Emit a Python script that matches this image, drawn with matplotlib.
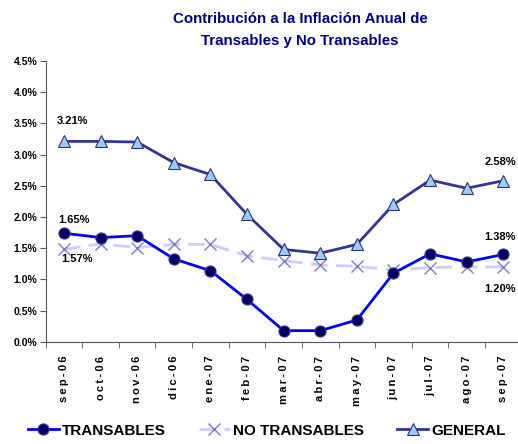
import matplotlib
matplotlib.use("Agg")
import matplotlib.pyplot as plt
from matplotlib.ticker import FuncFormatter, MultipleLocator
import numpy as np

# data
months = ["sep-06", "oct-06", "nov-06", "dic-06", "ene-07", "feb-07", "mar-07",
          "abr-07", "may-07", "jun-07", "jul-07", "ago-07", "sep-07"]
transables = [1.74, 1.67, 1.70, 1.33, 1.14, 0.68, 0.18, 0.18, 0.35, 1.10, 1.41, 1.28, 1.40]
no_transables = [1.48, 1.57, 1.51, 1.56, 1.56, 1.38, 1.30, 1.23, 1.21, 1.15, 1.19, 1.20, 1.20]
general = [3.21, 3.21, 3.20, 2.87, 2.68, 2.04, 1.48, 1.42, 1.56, 2.20, 2.59, 2.46, 2.58]

title = "Contribución a la Inflación Anual de\nTransables y No Transables"

FONT = ["Liberation Sans", "DejaVu Sans"]
plt.rcParams["font.family"] = FONT

fig = plt.figure(figsize=(5.18, 4.44), dpi=100)
ax = fig.add_axes([0.088, 0.230, 0.919, 0.633])

x = np.arange(len(months))

ax.plot(x, no_transables, color="#ccccff", lw=2.0, dashes=(6, 3),
        marker="x", ms=9, mew=1.0, mec="#7b7bc8", label="NO TRANSABLES", zorder=2)
ax.plot(x, transables, color="#0000ff", lw=2.0,
        marker="o", ms=8, mfc="#000066", mec="#3a3a8a", mew=0.8, label="TRANSABLES", zorder=3)
ax.plot(x, general, color="#333399", lw=2.0,
        marker="^", ms=9, mfc="#99ccff", mec="#333366", mew=0.8, label="GENERAL", zorder=4)

# point labels
lab = dict(fontsize=8, fontweight="bold", ha="center", va="center",
           textcoords="offset pixels")
ax.annotate("3.21%", (x[0], general[0]), xytext=(9, 20), **lab)
ax.annotate("1.65%", (x[0], transables[0]), xytext=(10, 13), **lab)
ax.annotate("1.57%", (x[0], no_transables[0]), xytext=(13, -10), **lab)
ax.annotate("2.58%", (x[-1], general[-1]), xytext=(-3, 19), **lab)
ax.annotate("1.38%", (x[-1], transables[-1]), xytext=(-3, 17), **lab)
ax.annotate("1.20%", (x[-1], no_transables[-1]), xytext=(-3, -22), **lab)

ax.set_xlim(-0.5, len(months) - 0.5)
ax.set_ylim(0, 4.5)
ax.yaxis.set_major_locator(MultipleLocator(0.5))
ax.yaxis.set_major_formatter(FuncFormatter(lambda v, p: f"{v:.1f}%"))

# excel-style letter spacing on the month labels
spaced = ["\u2009".join(m) for m in months]
ax.set_xticks(x)
ax.set_xticklabels(spaced, rotation=90, fontsize=8, fontweight="bold")
ax.set_xticks(np.arange(-0.5, len(months)), minor=True)
ax.tick_params(axis="x", which="major", length=0, pad=10)
ax.tick_params(axis="x", which="minor", length=4, color="#555555")
ax.tick_params(axis="y", length=4, color="#555555", labelsize=7.5, pad=2)
for t in ax.get_yticklabels():
    t.set_fontweight("bold")

for s in ["top", "right"]:
    ax.spines[s].set_visible(False)
for s in ["left", "bottom"]:
    ax.spines[s].set_color("#555555")

fig.text(0.579, 0.933, title, ha="center", va="center", fontsize=10.8,
         fontweight="bold", color="#000080", linespacing=1.75)

handles, labels = ax.get_legend_handles_labels()
order = [1, 0, 2]
fig.legend([handles[i] for i in order], [labels[i] for i in order],
           loc="center", bbox_to_anchor=(0.515, 0.03), ncol=3, frameon=False,
           handlelength=2.0, handletextpad=0.2, columnspacing=2.2,
           prop=dict(weight="bold", size=11))

fig.savefig("out.png", dpi=100)
